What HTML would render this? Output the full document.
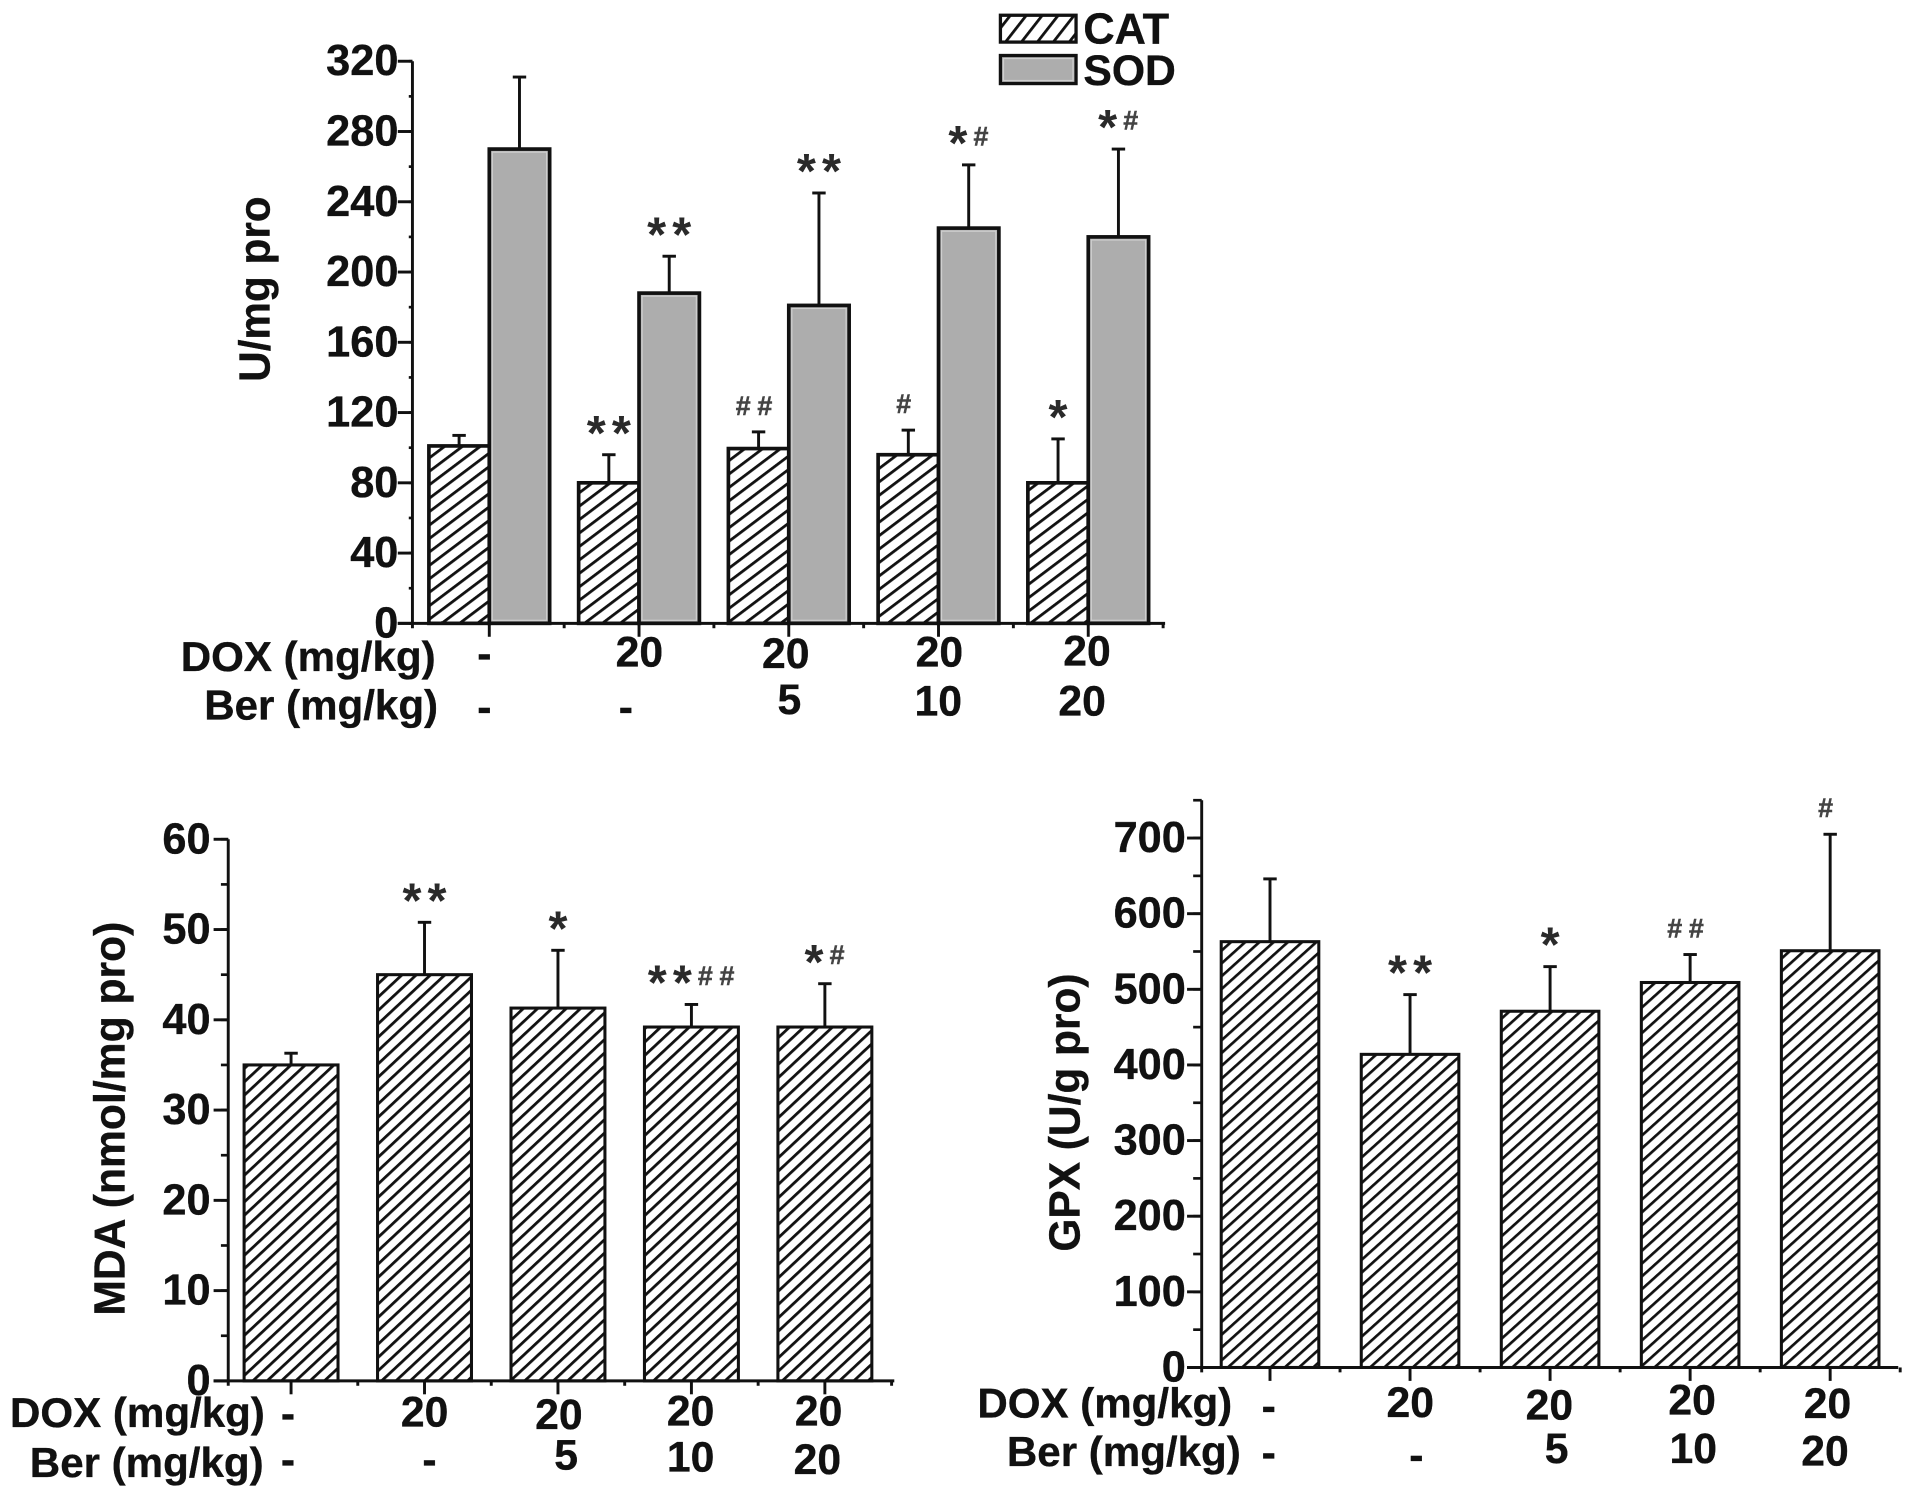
<!DOCTYPE html>
<html lang="en">
<head>
<meta charset="utf-8">
<title>Antioxidant markers</title>
<style>
html,body{margin:0;padding:0;background:#fff;width:1913px;height:1498px;overflow:hidden}
svg{display:block;filter:blur(0.35px)}
text{font-family:"Liberation Sans",Arial,sans-serif;font-weight:700;fill:#111}
.t{font-size:35px;text-anchor:middle;dominant-baseline:central;stroke:#111;stroke-width:.3px}
.r{font-size:34.5px;text-anchor:end;dominant-baseline:central;stroke:#111;stroke-width:.3px}
.h{stroke:#111;stroke-width:.3px}
</style>
</head>
<body>
<svg id="figure" xmlns="http://www.w3.org/2000/svg" width="1913" height="1498" viewBox="0 0 1568 1228">
<defs>
<pattern id="hatch-top" patternUnits="userSpaceOnUse" width="8.8" height="8.8" patternTransform="rotate(-37)">
<rect width="8.8" height="8.8" fill="#fff"/><rect width="8.8" height="2.3" fill="#111"/>
</pattern>
<pattern id="hatch-mda" patternUnits="userSpaceOnUse" width="8" height="8" patternTransform="rotate(-43)">
<rect width="8" height="8" fill="#fff"/><rect width="8" height="2.3" fill="#111"/>
</pattern>
<pattern id="hatch-gpx" patternUnits="userSpaceOnUse" width="7.8" height="7.8" patternTransform="rotate(-42)">
<rect width="7.8" height="7.8" fill="#fff"/><rect width="7.8" height="2.2" fill="#111"/>
</pattern>
<pattern id="hatch-legend" patternUnits="userSpaceOnUse" width="10.3" height="10.3" patternTransform="rotate(-52)">
<rect width="10.3" height="10.3" fill="#fff"/><rect width="10.3" height="2.3" fill="#111"/>
</pattern>
</defs>

<g>
<rect x="820" y="12.5" width="62" height="22" fill="url(#hatch-legend)" stroke="#111" stroke-width="2.7"/>
<rect x="820" y="45.5" width="62" height="23" fill="#adadad" stroke="#111" stroke-width="2.7"/>
<rect x="822.5" y="48" width="57" height="18" fill="none" stroke="#cfcfcf" stroke-width="1"/>
<text class="h" x="888" y="24" font-size="35.5" dominant-baseline="central">CAT</text>
<text class="h" x="888" y="58" font-size="35" dominant-baseline="central">SOD</text>
</g>

<text class="h" transform="translate(209,237) rotate(-90)" font-size="36" text-anchor="middle" dominant-baseline="central" textLength="152" lengthAdjust="spacingAndGlyphs">U/mg pro</text>
<text class="h" transform="translate(90,917) rotate(-90)" font-size="36" text-anchor="middle" dominant-baseline="central" textLength="323" lengthAdjust="spacingAndGlyphs">MDA (nmol/mg pro)</text>
<text class="h" transform="translate(873,912) rotate(-90)" font-size="36" text-anchor="middle" dominant-baseline="central" textLength="228" lengthAdjust="spacingAndGlyphs">GPX (U/g pro)</text>

<g>
<text class="r" x="357" y="538">DOX (mg/kg)</text>
<text class="r" x="359" y="578">Ber (mg/kg)</text>
<text class="t" x="397" y="536">-</text>
<text class="t" x="524" y="535">20</text>
<text class="t" x="644" y="536">20</text>
<text class="t" x="770" y="535">20</text>
<text class="t" x="891" y="534">20</text>
<text class="t" x="397" y="580">-</text>
<text class="t" x="513" y="580">-</text>
<text class="t" x="647" y="574">5</text>
<text class="t" x="769" y="575">10</text>
<text class="t" x="887" y="575">20</text>
</g>

<g>
<text class="r" x="217" y="1158">DOX (mg/kg)</text>
<text class="r" x="216" y="1199">Ber (mg/kg)</text>
<text class="t" x="236" y="1159">-</text>
<text class="t" x="348" y="1158">20</text>
<text class="t" x="458" y="1160">20</text>
<text class="t" x="566" y="1157">20</text>
<text class="t" x="671" y="1157">20</text>
<text class="t" x="236" y="1197">-</text>
<text class="t" x="352" y="1197">-</text>
<text class="t" x="464" y="1193">5</text>
<text class="t" x="566" y="1195">10</text>
<text class="t" x="670" y="1197">20</text>
</g>

<g>
<text class="r" x="1010" y="1150">DOX (mg/kg)</text>
<text class="r" x="1017" y="1190">Ber (mg/kg)</text>
<text class="t" x="1040" y="1153">-</text>
<text class="t" x="1156" y="1150">20</text>
<text class="t" x="1270" y="1152">20</text>
<text class="t" x="1387" y="1148">20</text>
<text class="t" x="1498" y="1151">20</text>
<text class="t" x="1040" y="1191">-</text>
<text class="t" x="1161" y="1193">-</text>
<text class="t" x="1276" y="1188">5</text>
<text class="t" x="1388" y="1188">10</text>
<text class="t" x="1496" y="1190">20</text>
</g>
</svg>

<script>
// Top chart data
const topTicks = [0, 40, 80, 120, 160, 200, 240, 280, 320];
const catMeans = [101, 80, 99.5, 96, 80];
const catErrTops = [107, 96, 109, 110, 105];
const catMarks = ['', '**', '##', '#', '*'];
const sodMeans = [270, 188, 181, 225, 220];
const sodErrTops = [311, 209, 245, 261, 270];
const sodMarks = ['', '**', '**', '*#', '*#'];
// MDA chart data
const mdaTicks = [0, 10, 20, 30, 40, 50, 60];
const mdaMeans = [35, 45, 41.3, 39.2, 39.2];
const mdaErrTops = [36.3, 50.8, 47.7, 41.7, 44];
const mdaMarks = ['', '**', '*', '**##', '*#'];
// GPX chart data
const gpxTicks = [0, 100, 200, 300, 400, 500, 600, 700];
const gpxMeans = [563, 414, 471, 509, 551];
const gpxErrTops = [646, 493, 530, 546, 705];
const gpxMarks = ['', '**', '*', '##', '#'];

const svg = document.getElementById('figure');
const NS = 'http://www.w3.org/2000/svg';
const INK = '#111';

function el(tag, attrs, parent) {
  const e = document.createElementNS(NS, tag);
  for (const k in attrs) e.setAttribute(k, attrs[k]);
  parent.appendChild(e);
  return e;
}
function line(parent, x1, y1, x2, y2, w) {
  return el('line', {x1: x1, y1: y1, x2: x2, y2: y2, stroke: INK, 'stroke-width': w || 2.4}, parent);
}

function drawAxes(g, c, yScale, xCenter) {
  const yLine = line(g, c.axisX, yScale(c.yMax), c.axisX, c.y0 + 4);
  
  
  const xLine = line(g, c.axisX - 12, c.y0, c.axisEnd, c.y0);
  
  
  const minorStep = (c.ticks[1] - c.ticks[0]) / 2;
  for (let v = c.ticks[0]; v <= c.yMax + 0.001; v += minorStep) {
    const mt = line(g, c.axisX - c.minorLen, yScale(v), c.axisX, yScale(v), 2.2);
    
    
  }
  c.ticks.forEach(function (v) {
    const tk = line(g, c.axisX - 12, yScale(v), c.axisX, yScale(v));
    
    
    const lb = el('text', {x: c.axisX - c.labelGap, y: yScale(v), 'font-size': c.tickFont, 'text-anchor': 'end', 'dominant-baseline': 'central', stroke: '#111', 'stroke-width': 0.3}, g);
    lb.textContent = String(v);
    
    
  });
  for (let i = 0; i < c.groups; i++) {
    const mj = line(g, xCenter(i), c.y0, xCenter(i), c.y0 + 11);
    
    
    const mn = line(g, xCenter(i) + c.step / 2, c.y0, xCenter(i) + c.step / 2, c.y0 + 4);
    
    
  }
}

function drawBar(g, x, w, c, yScale, mean, errTop, s) {
  const top = yScale(mean);
  const eTop = yScale(errTop);
  const cx = x + w / 2;
  const stem = line(g, cx, top, cx, eTop);
  
  
  const cap = line(g, cx - 5.5, eTop, cx + 5.5, eTop);
  
  
  const bar = el('rect', {x: x, y: top, width: w, height: c.y0 - top, fill: s.fill, stroke: INK, 'stroke-width': c.barStroke}, g);
  
  
  if (s.highlight) {
    const hl = el('rect', {x: x + 2.5, y: top + 2.5, width: w - 5, height: c.y0 - top - 5, fill: 'none', stroke: s.highlight, 'stroke-width': 1}, g);
    
    
  }
}

function drawMarks(g, cx, errY, marks) {
  if (!marks) return;
  const hashOnly = marks[0] === '#';
  const t = el('text', {x: hashOnly ? cx - 1 : cx + 2.5, y: errY - 4, 'text-anchor': 'middle'}, g);
  
  
  let raised = false;
  for (const ch of marks) {
    const s = el('tspan', {}, t);
    s.textContent = ch;
    if (ch === '*') {
      s.setAttribute('font-size', '40');
      s.setAttribute('letter-spacing', '5');
      s.setAttribute('fill', '#2a2a2a');
    } else {
      s.setAttribute('font-size', '22');
      s.setAttribute('letter-spacing', '5.5');
      s.setAttribute('fill', '#444');
      s.setAttribute('stroke', '#444');
      s.setAttribute('stroke-width', '0.4');
      if (!raised) {
        s.setAttribute('dy', hashOnly ? '-10' : '-12');
        raised = true;
      }
    }
  }
}

function drawChart(c) {
  const g = el('g', {}, svg);
  
  
  const yScale = function (v) { return c.y0 - v * c.pxPerUnit; };
  const xCenter = function (i) { return c.x0 + i * c.step; };
  c.series.forEach(function (s) {
    s.means.forEach(function (m, i) {
      const x = xCenter(i) + s.offset;
      drawBar(g, x, c.barWidth, c, yScale, m, s.errTops[i], s);
      drawMarks(g, x + c.barWidth / 2, yScale(s.errTops[i]), s.marks[i]);
    });
  });
  drawAxes(g, c, yScale, xCenter);
}

drawChart({
  name: 'chart-cat-sod', axisX: 338, axisEnd: 955, y0: 511, pxPerUnit: 1.44, yMax: 320,
  ticks: topTicks, tickFont: 35.5, labelGap: 11.5, groups: 5, x0: 401, step: 122.75, barWidth: 49.5, barStroke: 3, minorLen: 3,
  series: [
    {means: catMeans, errTops: catErrTops, marks: catMarks, offset: -49.5, fill: 'url(#hatch-top)'},
    {means: sodMeans, errTops: sodErrTops, marks: sodMarks, offset: 0, fill: '#adadad', highlight: '#cfcfcf'}
  ]
});
drawChart({
  name: 'chart-mda', axisX: 187, axisEnd: 733, y0: 1132, pxPerUnit: 7.4, yMax: 60,
  ticks: mdaTicks, tickFont: 35.5, labelGap: 14.5, groups: 5, x0: 238.5, step: 109.4, barWidth: 77, barStroke: 2.5, minorLen: 6,
  series: [{means: mdaMeans, errTops: mdaErrTops, marks: mdaMarks, offset: -38.5, fill: 'url(#hatch-mda)'}]
});
drawChart({
  name: 'chart-gpx', axisX: 985, axisEnd: 1556, y0: 1121, pxPerUnit: 0.62, yMax: 750,
  ticks: gpxTicks, tickFont: 35.5, labelGap: 13, groups: 5, x0: 1041, step: 114.8, barWidth: 80, barStroke: 2.5, minorLen: 7,
  series: [{means: gpxMeans, errTops: gpxErrTops, marks: gpxMarks, offset: -40, fill: 'url(#hatch-gpx)'}]
});
</script>
</body>
</html>
